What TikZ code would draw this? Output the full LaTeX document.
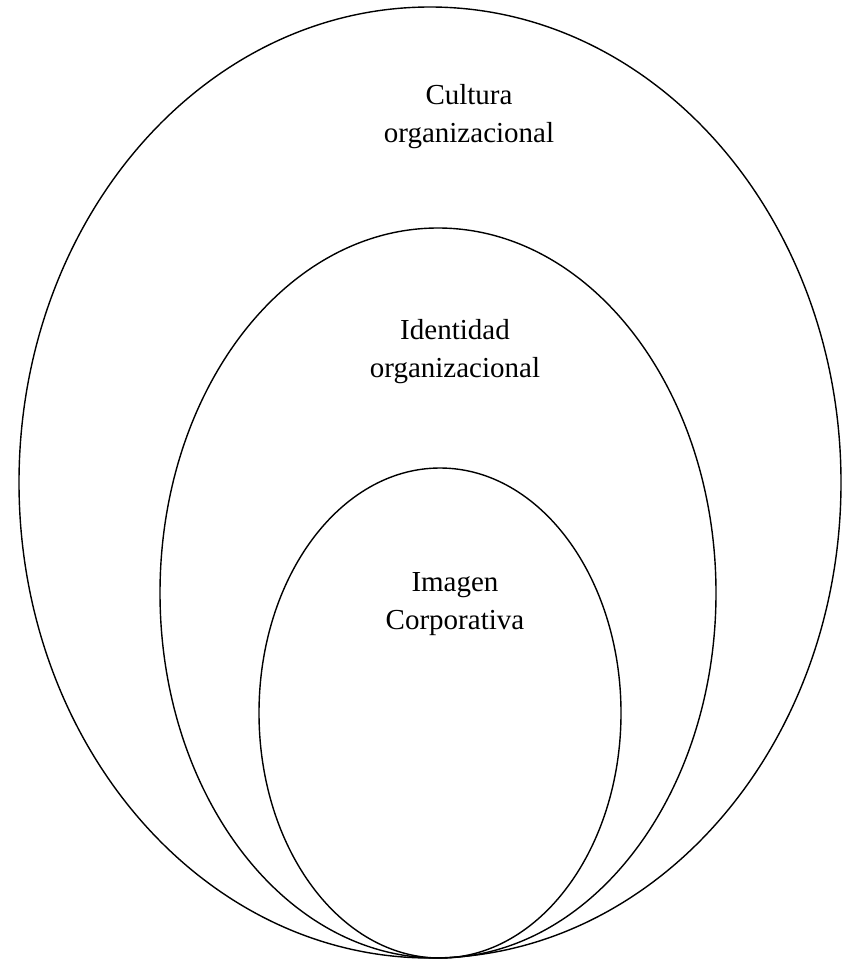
\documentclass[tikz,border=0pt]{standalone}
\usepackage{fontspec}
\setmainfont{Liberation Serif}
\usepackage{tikz}

\begin{document}
\begin{tikzpicture}[x=1pt,y=-1pt, line width=1.4pt,
    label/.style={align=center, font=\fontsize{29}{38}\selectfont}]
    \useasboundingbox (0,0) rectangle (852,960);

    % Cultura organizacional (outer)
    \draw (430,482.5) ellipse (411 and 475.5);
    % Identidad organizacional (middle)
    \draw (438,593) ellipse (278 and 365);
    % Imagen corporativa (inner)
    \draw (440,713) ellipse (181 and 245);

    \node[label] (cultura) at (469,117) {Cultura\\organizacional};
    \node[label] (identidad) at (455,352) {Identidad\\organizacional};
    \node[label] (imagen) at (455,604) {Imagen\\Corporativa};
\end{tikzpicture}
\end{document}
